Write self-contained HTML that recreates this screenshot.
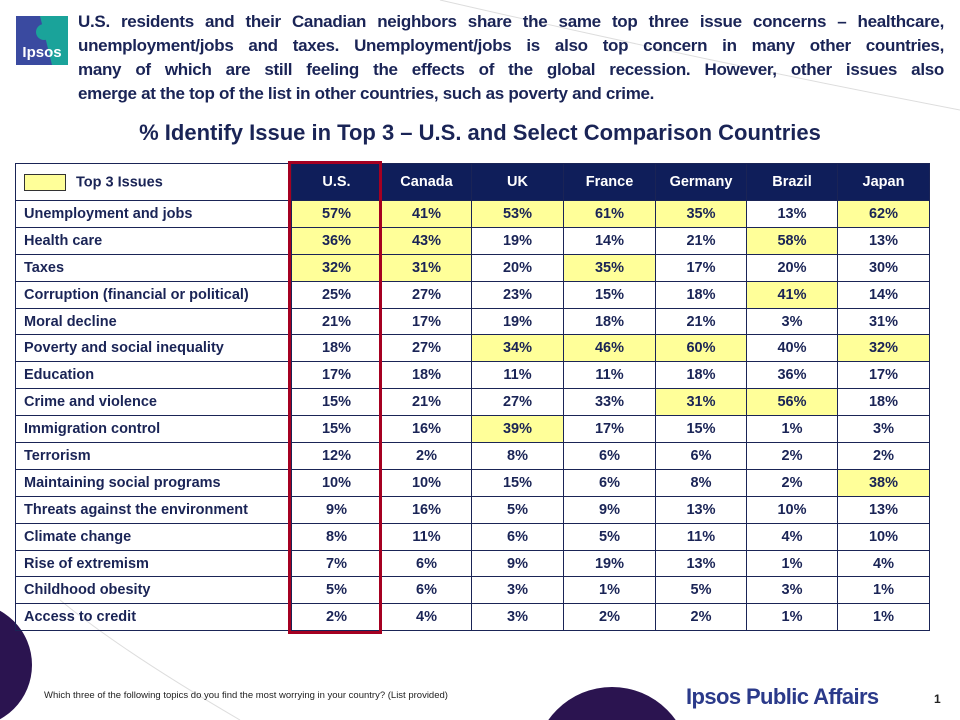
<!DOCTYPE html>
<html><head><meta charset="utf-8"><style>
body{margin:0;width:960px;height:720px;overflow:hidden;background:#fff;position:relative;font-family:"Liberation Sans",sans-serif;color:#1a2456}
.intro{position:absolute;left:78px;top:10px;width:866px;font-size:17px;font-weight:bold;line-height:24px;letter-spacing:-0.3px}
.intro div{text-align:justify;text-align-last:justify;white-space:nowrap;overflow:hidden;height:24px}
.intro div.last{text-align-last:left}
.title{position:absolute;left:0;width:960px;top:120px;text-align:center;font-size:22px;font-weight:bold}
table{position:absolute;left:15px;top:163px;border-collapse:collapse;font-size:14.5px;font-weight:bold}
td{border:1px solid #1a2456;height:25.9px;padding:0;text-align:center}
td.l{text-align:left;padding-left:8px;width:267px}
tr.h td{height:36px;background:#0f1e5a;color:#fff}
tr.h td.l{background:#fff;color:#1a2456}
.y{background:#ffff99}
.box{position:absolute;left:288px;top:161px;width:88px;height:467px;border:3px solid #a50021}
</style></head><body>
<svg style="position:absolute;left:0;top:0" width="960" height="720">
<path d="M440 0 Q700 60 960 110" stroke="#ddd" fill="none"/>
<path d="M60 600 Q120 650 240 720" stroke="#ddd" fill="none"/>
<circle cx="-30" cy="665" r="62" fill="#2b1450"/>
<circle cx="612" cy="765" r="78" fill="#2b1450"/>
<rect x="16" y="16" width="52" height="49" fill="#3a4aa0"/>
<path d="M40 16 H68 V65 H52 Z" fill="#1aa39a"/>
<circle cx="44" cy="32" r="8" fill="#1aa39a"/>
<text x="42" y="57" fill="#fff" font-size="15" font-weight="bold" text-anchor="middle" font-family="Liberation Sans">Ipsos</text>
</svg>
<div class="intro">
<div>U.S. residents and their Canadian neighbors share the same top three issue concerns – healthcare,</div>
<div>unemployment/jobs and taxes. Unemployment/jobs is also top concern in many other countries,</div>
<div>many of which are still feeling the effects of the global recession. However, other issues also</div>
<div class="last">emerge at the top of the list in other countries, such as poverty and crime.</div>
</div>
<div class="title">% Identify Issue in Top 3 – U.S. and Select Comparison Countries</div>
<table>
<tr class="h"><td class="l"><span style="display:inline-block;width:40px;height:15px;background:#ffff99;border:1px solid #333;vertical-align:middle;margin-right:10px"></span>Top 3 Issues</td><td style="width:89px">U.S.</td><td style="width:89px">Canada</td><td style="width:91px">UK</td><td style="width:91px">France</td><td style="width:90px">Germany</td><td style="width:90px">Brazil</td><td style="width:91px">Japan</td></tr>
<tr><td class="l">Unemployment and jobs</td><td class="y">57%</td><td class="y">41%</td><td class="y">53%</td><td class="y">61%</td><td class="y">35%</td><td>13%</td><td class="y">62%</td></tr>
<tr><td class="l">Health care</td><td class="y">36%</td><td class="y">43%</td><td>19%</td><td>14%</td><td>21%</td><td class="y">58%</td><td>13%</td></tr>
<tr><td class="l">Taxes</td><td class="y">32%</td><td class="y">31%</td><td>20%</td><td class="y">35%</td><td>17%</td><td>20%</td><td>30%</td></tr>
<tr><td class="l">Corruption (financial or political)</td><td>25%</td><td>27%</td><td>23%</td><td>15%</td><td>18%</td><td class="y">41%</td><td>14%</td></tr>
<tr><td class="l">Moral decline</td><td>21%</td><td>17%</td><td>19%</td><td>18%</td><td>21%</td><td>3%</td><td>31%</td></tr>
<tr><td class="l">Poverty and social inequality</td><td>18%</td><td>27%</td><td class="y">34%</td><td class="y">46%</td><td class="y">60%</td><td>40%</td><td class="y">32%</td></tr>
<tr><td class="l">Education</td><td>17%</td><td>18%</td><td>11%</td><td>11%</td><td>18%</td><td>36%</td><td>17%</td></tr>
<tr><td class="l">Crime and violence</td><td>15%</td><td>21%</td><td>27%</td><td>33%</td><td class="y">31%</td><td class="y">56%</td><td>18%</td></tr>
<tr><td class="l">Immigration control</td><td>15%</td><td>16%</td><td class="y">39%</td><td>17%</td><td>15%</td><td>1%</td><td>3%</td></tr>
<tr><td class="l">Terrorism</td><td>12%</td><td>2%</td><td>8%</td><td>6%</td><td>6%</td><td>2%</td><td>2%</td></tr>
<tr><td class="l">Maintaining social programs</td><td>10%</td><td>10%</td><td>15%</td><td>6%</td><td>8%</td><td>2%</td><td class="y">38%</td></tr>
<tr><td class="l">Threats against the environment</td><td>9%</td><td>16%</td><td>5%</td><td>9%</td><td>13%</td><td>10%</td><td>13%</td></tr>
<tr><td class="l">Climate change</td><td>8%</td><td>11%</td><td>6%</td><td>5%</td><td>11%</td><td>4%</td><td>10%</td></tr>
<tr><td class="l">Rise of extremism</td><td>7%</td><td>6%</td><td>9%</td><td>19%</td><td>13%</td><td>1%</td><td>4%</td></tr>
<tr><td class="l">Childhood obesity</td><td>5%</td><td>6%</td><td>3%</td><td>1%</td><td>5%</td><td>3%</td><td>1%</td></tr>
<tr><td class="l">Access to credit</td><td>2%</td><td>4%</td><td>3%</td><td>2%</td><td>2%</td><td>1%</td><td>1%</td></tr>
</table>
<div class="box"></div>
<div style="position:absolute;left:44px;top:690px;font-size:9.5px;color:#222;white-space:nowrap">Which three of the following topics do you find the most worrying in your country? (List provided)</div>
<div style="position:absolute;left:686px;top:684px;font-size:22px;font-weight:bold;color:#2b3a8a;letter-spacing:-0.6px;white-space:nowrap">Ipsos Public Affairs</div>
<div style="position:absolute;left:934px;top:692px;font-size:12px;font-weight:bold;color:#222">1</div>
</body></html>
